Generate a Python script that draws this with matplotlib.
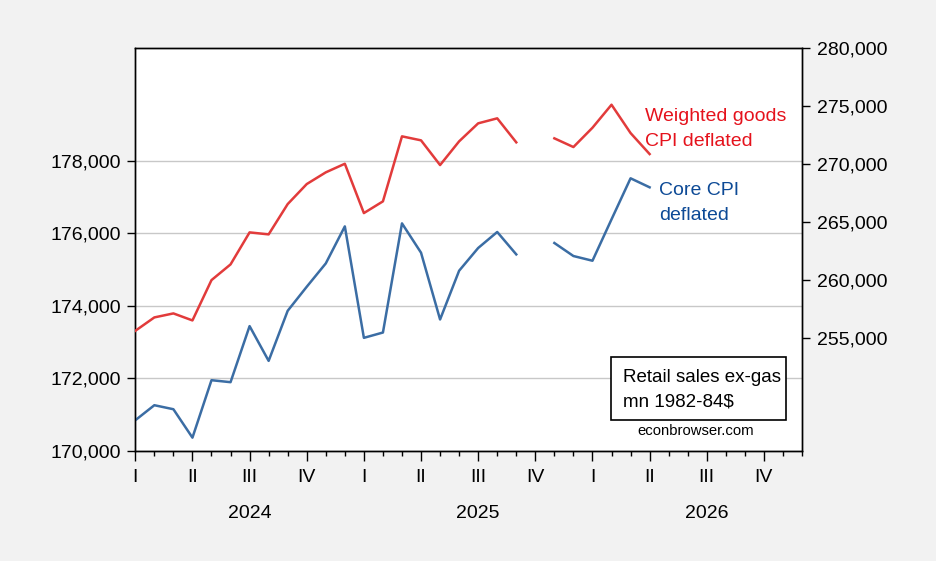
import matplotlib
matplotlib.use("Agg")
import matplotlib.pyplot as plt
import matplotlib.patches as mpatches
import matplotlib.ticker as mticker
import numpy as np

plt.rcParams['font.family'] = ['Liberation Sans', 'DejaVu Sans']

# monthly index, Jan 2024 = 0
months = np.arange(28)

# retail sales ex-gas, core CPI deflated (left axis), mn 1982-84$
core_cpi = [170836, 171251, 171140, 170355, 171942, 171887, 173436, 172476,
            173859, 174523, 175168, 176191, 173112, 173259, 176274, 175464,
            173619, 174966, 175594, 176036, 175417, np.nan, 175732, 175372,
            175242, 176385, 177519, 177270]

# retail sales ex-gas, weighted goods CPI deflated (right axis)
goods_cpi = [255657, 256812, 257157, 256553, 260027, 261380, 264139, 263966,
             266578, 268302, 269311, 270052, 265802, 266811, 272414, 272069,
             269940, 271983, 273535, 273966, 271897, np.nan, 272242, 271492,
             273155, 275138, 272698, 270888]

quarter_labels = ['I', 'II', 'III', 'IV'] * 3
years = ['2024', '2025', '2026']

blue = '#3b6da4'
red = '#e23b3b'
fs = 14

W, H = 936, 561
fig = plt.figure(figsize=(W / 100, H / 100), dpi=100, facecolor='#f2f2f2')
ax = fig.add_axes([135.3 / W, 1 - 450.5 / H, (802 - 135.3) / W, (450.5 - 48.3) / H])
ax.set_facecolor('white')
ax2 = ax.twinx()

ax.plot(months, core_cpi, color=blue, lw=1.8, zorder=3)
ax2.plot(months, goods_cpi, color=red, lw=1.8, zorder=3)

ax.set_xlim(0, 35)
ax.set_ylim(170000, 181110)
ax2.set_ylim(245345, 280000)

fmt = mticker.FuncFormatter(lambda v, p: f'{v:,.0f}')
ax.set_yticks(np.arange(170000, 178001, 2000))
ax.yaxis.set_major_formatter(fmt)
ax2.set_yticks(np.arange(255000, 280001, 5000))
ax2.yaxis.set_major_formatter(fmt)

ax.yaxis.grid(True, color='#c8c8c8', lw=1.0)
ax.set_axisbelow(True)

ax.set_xticks(np.arange(0, 36, 3))
ax.set_xticklabels(quarter_labels)
ax.set_xticks(np.arange(0, 36), minor=True)

ax.tick_params(axis='x', which='major', length=7, width=1, pad=6.5, labelsize=fs)
ax.tick_params(axis='x', which='minor', length=3.5, width=1)
ax.tick_params(axis='y', length=6, width=1, pad=4.5, labelsize=fs)
ax2.tick_params(axis='y', length=6, width=1, pad=4.5, labelsize=fs)

for a in (ax, ax2):
    for s in a.spines.values():
        s.set_color('black')
        s.set_linewidth(1.0)

for i, yr in enumerate(years):
    ax.text(6 + 12 * i, -0.157, yr, transform=ax.get_xaxis_transform(),
            ha='center', va='center', fontsize=fs)


def fx(px):
    return px / W


def fy(py):
    return 1 - py / H


# series labels, one line at a time (baselines)
fig.text(fx(645), fy(120.7), 'Weighted goods', color='#e5121c', fontsize=fs,
         ha='left', va='baseline')
fig.text(fx(645), fy(145.7), 'CPI deflated', color='#e5121c', fontsize=fs,
         ha='left', va='baseline')
fig.text(fx(659), fy(195), 'Core CPI', color='#0d4a96', fontsize=fs,
         ha='left', va='baseline')
fig.text(fx(659), fy(220), 'deflated', color='#0d4a96', fontsize=fs,
         ha='left', va='baseline')

box = mpatches.Rectangle((fx(610.7), fy(420)), (785.7 - 610.7) / W, (420 - 356.7) / H,
                         transform=fig.transFigure, facecolor='white',
                         edgecolor='black', lw=1.2, zorder=5)
fig.add_artist(box)
fig.text(fx(622.7), fy(382.3), 'Retail sales ex-gas', fontsize=13.5,
         ha='left', va='baseline', zorder=6)
fig.text(fx(622.7), fy(406.7), 'mn 1982-84$', fontsize=13.5,
         ha='left', va='baseline', zorder=6)
fig.text(fx(696), fy(431), 'econbrowser.com', fontsize=10.7, ha='center',
         va='center', zorder=6)

fig.savefig('out.png', dpi=100, facecolor=fig.get_facecolor())
